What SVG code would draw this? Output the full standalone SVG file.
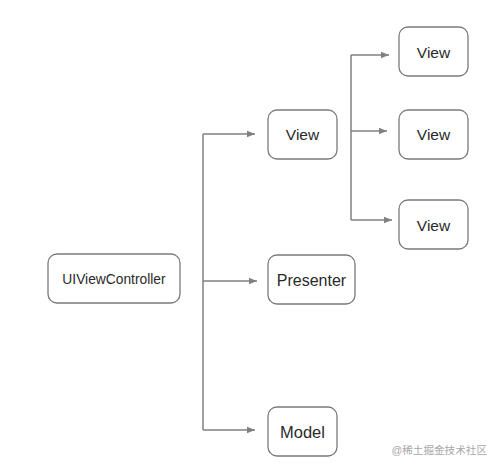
<svg xmlns="http://www.w3.org/2000/svg" width="500" height="467" viewBox="0 0 500 467">
<style>
.box{fill:#fff;stroke:#7a7a7a;stroke-width:1.3}
.lbl{font-family:"Liberation Sans",Arial,sans-serif;fill:#2a2a2a;text-anchor:middle;dominant-baseline:central}
.con{fill:none;stroke:#808080;stroke-width:1.5}
</style>
<defs>
<marker id="ah" viewBox="0 0 10 10" refX="10" refY="5" markerWidth="8" markerHeight="8" markerUnits="userSpaceOnUse" orient="auto">
<path d="M0,1 L10,5 L0,9 Z" fill="#808080"/>
</marker>
</defs>
<rect width="500" height="467" fill="#fff"/>
<g id="connectors">
<path class="con" d="M203,134 V430"/>
<path class="con" d="M203,134 H255" marker-end="url(#ah)"/>
<path class="con" d="M203,281 H257" marker-end="url(#ah)"/>
<path class="con" d="M203,430 H255" marker-end="url(#ah)"/>
<path class="con" d="M351,55 V220"/>
<path class="con" d="M351,55 H389" marker-end="url(#ah)"/>
<path class="con" d="M351,131 H387" marker-end="url(#ah)"/>
<path class="con" d="M351,220 H392" marker-end="url(#ah)"/>
</g>
<g id="uiviewcontroller"><rect class="box" x="48" y="254" width="132" height="49" rx="9"/><text class="lbl" x="114" y="279" font-size="13.8">UIViewController</text></g>
<g id="view"><rect class="box" x="268" y="110" width="69" height="49" rx="9"/><text class="lbl" x="302.5" y="134.5" font-size="15.5">View</text></g>
<g id="presenter"><rect class="box" x="268" y="255" width="87" height="49" rx="9"/><text class="lbl" x="311.5" y="280" font-size="16">Presenter</text></g>
<g id="model"><rect class="box" x="268" y="407" width="69" height="49" rx="9"/><text class="lbl" x="302.5" y="432" font-size="16.5">Model</text></g>
<g id="view1"><rect class="box" x="399" y="27" width="69" height="49" rx="9"/><text class="lbl" x="433.5" y="52" font-size="15.5">View</text></g>
<g id="view2"><rect class="box" x="399" y="110" width="69" height="49" rx="9"/><text class="lbl" x="433.5" y="134.5" font-size="15.5">View</text></g>
<g id="view3"><rect class="box" x="399" y="200" width="69" height="49" rx="9"/><text class="lbl" x="433.5" y="225" font-size="15.5">View</text></g>
<text x="487" y="450" font-size="10.6" fill="#a8a8a8" text-anchor="end" font-family="'Liberation Sans','Noto Sans CJK SC',sans-serif" dominant-baseline="central">@稀土掘金技术社区</text>
</svg>
